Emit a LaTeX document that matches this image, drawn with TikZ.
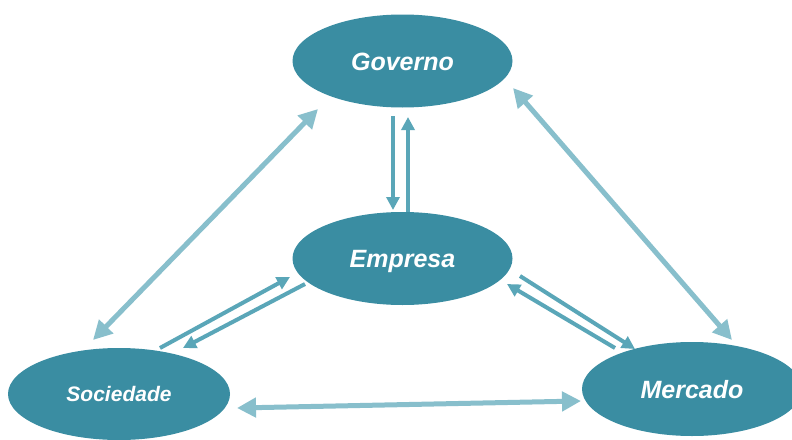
\documentclass[tikz,border=0pt]{standalone}
\usepackage{fontspec}
\setmainfont{Liberation Sans}
\usetikzlibrary{arrows.meta,calc,shapes.geometric}
\definecolor{teal1}{HTML}{3A8DA2}
\definecolor{linklight}{HTML}{88BFCC}
\definecolor{linkdark}{HTML}{5AA6B8}
\begin{document}
\begin{tikzpicture}[x=1pt,y=-1pt,
  actor/.style={ellipse, fill=teal1, draw=none, inner sep=0pt,
    minimum width=220pt, minimum height=93pt, text=white,
    text height=18pt, text depth=0pt,
    font=\bfseries\itshape\fontsize{25}{30}\selectfont},
  mutual/.style={draw=linklight, line width=5pt,
    {Triangle[length=19pt,width=19pt]}-{Triangle[length=19pt,width=19pt]}},
  flow/.style={draw=linkdark, line width=4pt,
    -{Triangle[length=13pt,width=13pt]}}]
\useasboundingbox (0,0) rectangle (792,439);
\fill[white] (0,0) rectangle (792,439);

% the four actors
\node[actor] (gov) at (402.5,61) {Governo};
\node[actor] (emp) at (402.5,258.5) {Empresa};
\node[actor, minimum width=222pt, minimum height=92pt, text height=15pt,
      font=\bfseries\itshape\fontsize{21}{25}\selectfont] (soc) at (119,394) {Sociedade};
\node[actor, minimum height=94pt] (mer) at (692,389) {Mercado};

% two-way links around the triangle
\draw[mutual] ($(soc)+(-26,-54)$) -- ($(gov)+(-84.5,48)$);
\draw[mutual] ($(gov)+(110.5,27)$) -- ($(mer)+(40,-49)$);
\draw[mutual] ($(soc)+(118,14)$) -- ($(mer)+(-111,12)$);

% paired one-way flows with the company
\draw[flow] ($(gov)+(-9.5,55)$) -- ($(emp)+(-9.5,-48.5)$);
\draw[flow] ($(emp)+(5.5,-46.5)$) -- ($(gov)+(5.5,56)$);
\draw[flow] ($(soc)+(41,-46)$) -- ($(emp)+(-112.5,18.5)$);
\draw[flow] ($(emp)+(-97.5,25.5)$) -- ($(soc)+(64,-46)$);
\draw[flow] ($(emp)+(117.5,17.5)$) -- ($(mer)+(-57,-40)$);
\draw[flow] ($(mer)+(-77,-41)$) -- ($(emp)+(104.5,25.5)$);
\end{tikzpicture}
\end{document}
